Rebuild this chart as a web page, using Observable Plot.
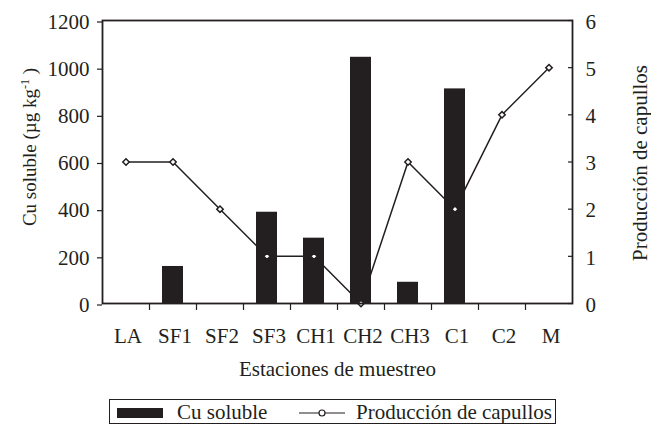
<!DOCTYPE html>
<html>
<head>
<meta charset="utf-8">
<script src="https://cdn.jsdelivr.net/npm/d3@7"></script>
<script src="https://cdn.jsdelivr.net/npm/@observablehq/plot@0.6"></script>
<style>
  html, body { margin: 0; padding: 0; background: #fff; }
  #wrap { position: relative; width: 651px; height: 425px; overflow: hidden; }
  #legend { position: absolute; left: 0; top: 399px; }
  svg text { font-family: 'Liberation Serif', 'Times New Roman', serif; }
</style>
</head>
<body>
<div id="wrap"></div>
<script>
const categories = ["LA", "SF1", "SF2", "SF3", "CH1", "CH2", "CH3", "C1", "C2", "M"];
const cuSoluble = [0, 157, 0, 387, 277, 1044, 90, 910, 0, 0];
const capullos = [3, 3, 2, 1, 1, 0, 3, 2, 4, 5];
const leftTicks = [0, 200, 400, 600, 800, 1000, 1200];
const rightTicks = [0, 1, 2, 3, 4, 5, 6];
const ratio = 200; // right axis unit → left axis unit

const data = categories.map((c, i) => ({cat: c, cu: cuSoluble[i], cap: capullos[i]}));
const font = "'Liberation Serif', 'Times New Roman', serif";
const ink = "#231f20";

const plot = Plot.plot({
  width: 651,
  height: 399,
  marginLeft: 102,
  marginRight: 79,
  marginTop: 20,
  marginBottom: 96,
  style: {fontFamily: font, fontSize: "21px", color: ink, background: "#fff"},
  x: {type: "band", domain: categories, paddingInner: 0.55, paddingOuter: 0.275, axis: null},
  y: {domain: [0, 1200], axis: null},
  marks: [
    Plot.barY(data, {x: "cat", y: "cu", fill: ink}),
    Plot.line(data, {x: "cat", y: d => d.cap * ratio, stroke: ink, strokeWidth: 1.5}),
    Plot.dot(data, {x: "cat", y: d => d.cap * ratio, symbol: "diamond2", r: 2.9, fill: "#fff", stroke: ink, strokeWidth: 1.5}),
    Plot.frame({stroke: ink, strokeWidth: 1.8}),
    // left axis
    Plot.axisY({ticks: leftTicks, tickSize: 5, tickPadding: 8, dy: 1.5, tickFormat: d => String(d), label: null, stroke: ink, strokeWidth: 1.2, fill: ink}),
    // right axis ticks (inward) and labels
    Plot.axisY({anchor: "right", ticks: rightTicks.map(d => d * ratio), tickSize: 5, dx: -5, tickFormat: () => "", label: null, stroke: ink, strokeWidth: 1.2}),
    Plot.axisY({anchor: "right", ticks: rightTicks.map(d => d * ratio), tickSize: 0, tickPadding: 13, dy: 1.5, tickFormat: d => String(d / ratio), label: null, fill: ink}),
    // bottom axis: boundary ticks and category labels
    Plot.axisX({ticks: categories.slice(0, categories.length - 1), tickSize: 7, dx: 23.5, tickFormat: () => "", label: null, stroke: ink, strokeWidth: 1.2}),
    Plot.axisX({ticks: categories, tickSize: 0, tickPadding: 25, dx: 2, label: null, fill: ink}),
    // titles
    Plot.text(["Estaciones de muestreo"], {frameAnchor: "bottom", textAnchor: "middle", dy: 72, fill: ink}),
    Plot.text(["Cu soluble (µg kg-1)"], {frameAnchor: "left", textAnchor: "middle", dx: -73, dy: -15, rotate: -90, fontSize: 19, fill: ink}),
    Plot.text(["Producción de capullos"], {frameAnchor: "right", textAnchor: "middle", dx: 68, dy: 1, rotate: -90, fill: ink})
  ]
});

// superscript in left title
d3.select(plot).selectAll("text").each(function() {
  if (this.textContent === "Cu soluble (µg kg-1)") {
    const t = d3.select(this);
    t.attr("text-anchor", "middle");
    t.text(null);
    t.append("tspan").text("Cu soluble (µg kg");
    t.append("tspan").attr("baseline-shift", "super").attr("font-size", 12).text("-1");
    t.append("tspan").text(" )");
  }
});

document.getElementById("wrap").appendChild(plot);

// legend below the chart
const lg = d3.select("#wrap").append("svg")
  .attr("id", "legend")
  .attr("width", 651).attr("height", 26)
  .style("font-family", font).style("font-size", "21px");
lg.append("rect").attr("x", 109.5).attr("y", 0.5).attr("width", 446).attr("height", 24)
  .attr("fill", "none").attr("stroke", ink).attr("stroke-width", 1);
lg.append("rect").attr("x", 117).attr("y", 9).attr("width", 46).attr("height", 10).attr("fill", ink);
lg.append("text").attr("x", 177).attr("y", 20).attr("fill", ink).text("Cu soluble");
lg.append("line").attr("x1", 299).attr("x2", 345).attr("y1", 14).attr("y2", 14).attr("stroke", ink).attr("stroke-width", 1.2);
lg.append("circle").attr("cx", 322).attr("cy", 14).attr("r", 3).attr("fill", "#fff").attr("stroke", ink).attr("stroke-width", 1.2);
lg.append("text").attr("x", 356).attr("y", 20).attr("fill", ink).text("Producción de capullos");
</script>
</body>
</html>
